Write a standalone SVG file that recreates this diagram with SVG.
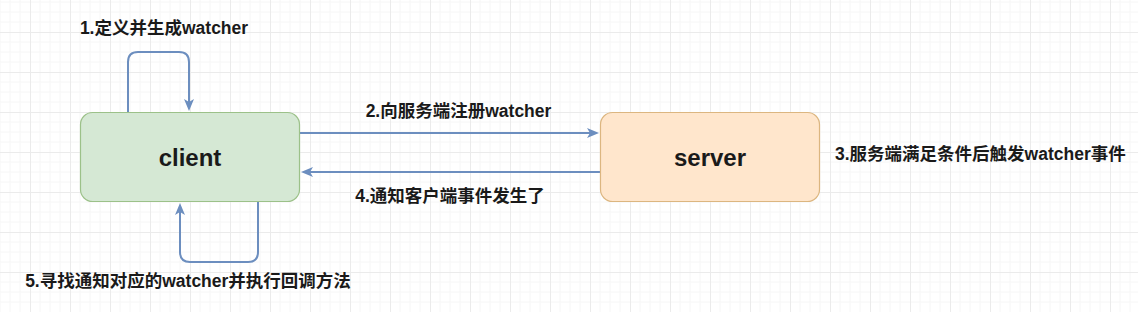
<svg xmlns="http://www.w3.org/2000/svg" width="1138" height="312" viewBox="0 0 1138 312">
  <style>
    .lbl { font-family: "Liberation Sans", "Noto Sans CJK SC", sans-serif; font-weight: bold; font-size: 17.5px; fill: #1a1a1a; }
    .name { font-family: "Liberation Sans", "Noto Sans CJK SC", sans-serif; font-weight: bold; font-size: 24px; fill: #1a1a1a; text-anchor: middle; }
    .edge { fill: none; stroke: #6c8ebf; stroke-width: 2; marker-end: url(#arrow); }
  </style>
  <defs>
    <pattern id="grid" patternUnits="userSpaceOnUse" x="30" y="32" width="40" height="40">
      <path d="M10,0 V40 M20,0 V40 M30,0 V40 M0,10 H40 M0,20 H40 M0,30 H40" stroke="#f6f6f6" stroke-width="1" fill="none"/>
      <path d="M0.5,0 V40 M0,0.5 H40" stroke="#ebebeb" stroke-width="1" fill="none"/>
    </pattern>
    <marker id="arrow" markerUnits="userSpaceOnUse" viewBox="0 0 12 10" markerWidth="12" markerHeight="10" refX="8" refY="5" orient="auto">
      <path d="M0,0 L12,5 L0,10 L3,5 Z" fill="#6c8ebf"/>
    </marker>
  </defs>
  <rect width="1138" height="312" fill="#ffffff"/>
  <rect width="1138" height="312" fill="url(#grid)"/>

  <g id="connectors">
    <path class="edge" d="M128,112 V62 Q128,52 138,52 H179 Q189,52 189,62 V107"/>
    <path class="edge" d="M300,133 H595"/>
    <path class="edge" d="M600,172 H305"/>
    <path class="edge" d="M258,202 V252 Q258,262 248,262 H190 Q180,262 180,252 V207"/>
  </g>

  <g id="client">
    <rect x="80.5" y="112.5" width="219" height="89" rx="12" ry="12" fill="#d5e8d4" stroke="#9cc189" stroke-width="1.2"/>
    <text class="name" x="190" y="165.5">client</text>
  </g>

  <g id="server">
    <rect x="600.5" y="112.5" width="219" height="89" rx="12" ry="12" fill="#ffe6cc" stroke="#dcb680" stroke-width="1.2"/>
    <text class="name" x="710" y="165.5">server</text>
  </g>

  <g id="labels">
    <text class="lbl" x="164" y="33.5" text-anchor="middle">1.定义并生成watcher</text>
    <text class="lbl" x="458.5" y="116.5" text-anchor="middle">2.向服务端注册watcher</text>
    <text class="lbl" x="835" y="160" text-anchor="start">3.服务端满足条件后触发watcher事件</text>
    <text class="lbl" x="450" y="201.5" text-anchor="middle">4.通知客户端事件发生了</text>
    <text class="lbl" x="188" y="286.5" text-anchor="middle">5.寻找通知对应的watcher并执行回调方法</text>
  </g>
</svg>
